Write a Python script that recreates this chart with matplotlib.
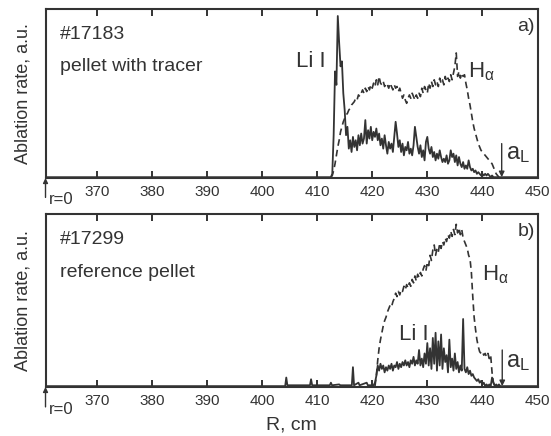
import numpy as np
import matplotlib
matplotlib.use("Agg")
import matplotlib.pyplot as plt

plt.rcParams["font.family"] = ["Liberation Sans", "DejaVu Sans"]
plt.rcParams["mathtext.fontset"] = "custom"
plt.rcParams["mathtext.rm"] = "Liberation Sans"
plt.rcParams["mathtext.it"] = "Liberation Sans"

INK = "#333333"

# ---- data (R in cm, ablation rate in a.u.) ----
R_MIN, R_MAX = 360.7, 450.0
STEP = 0.25

# a) #17183, pellet with tracer
top_start = 412.5
top_li = [
    0.00, 0.02, 0.25, 0.63, 0.55, 0.96, 0.80, 0.66, 0.69, 0.50,
    0.40, 0.25, 0.30, 0.17, 0.22, 0.15, 0.24, 0.18, 0.22, 0.16,
    0.25, 0.19, 0.26, 0.20, 0.23, 0.34, 0.20, 0.28, 0.23, 0.30,
    0.22, 0.27, 0.24, 0.29, 0.22, 0.26, 0.19, 0.23, 0.17, 0.25,
    0.19, 0.14, 0.21, 0.17, 0.20, 0.15, 0.24, 0.33, 0.26, 0.18,
    0.22, 0.15, 0.20, 0.13, 0.18, 0.16, 0.21, 0.14, 0.17, 0.13,
    0.19, 0.30, 0.24, 0.18, 0.14, 0.19, 0.12, 0.16, 0.10, 0.21,
    0.24, 0.17, 0.14, 0.18, 0.12, 0.15, 0.10, 0.14, 0.11, 0.16,
    0.12, 0.09, 0.11, 0.09, 0.13, 0.08, 0.10, 0.16, 0.12, 0.14,
    0.09, 0.13, 0.07, 0.12, 0.08, 0.06, 0.09, 0.05, 0.07, 0.05,
    0.10, 0.06, 0.04, 0.05, 0.03, 0.04, 0.02, 0.03, 0.02, 0.01,
    0.02, 0.01, 0.02, 0.01, 0.02, 0.01, 0.00, 0.01, 0.00, 0.00,
]
top_ha = [
    0.00, 0.01, 0.04, 0.08, 0.13, 0.18, 0.22, 0.27, 0.30, 0.33,
    0.35, 0.37, 0.38, 0.40, 0.41, 0.43, 0.44, 0.45, 0.47, 0.46,
    0.49, 0.48, 0.50, 0.52, 0.50, 0.53, 0.51, 0.54, 0.52, 0.55,
    0.53, 0.56, 0.54, 0.58, 0.55, 0.60, 0.56, 0.55, 0.57, 0.54,
    0.56, 0.55, 0.53, 0.56, 0.54, 0.52, 0.55, 0.53, 0.54, 0.51,
    0.53, 0.50, 0.47, 0.49, 0.46, 0.44, 0.47, 0.49, 0.47, 0.50,
    0.48, 0.46, 0.49, 0.47, 0.50, 0.48, 0.53, 0.50, 0.54, 0.52,
    0.50, 0.56, 0.53, 0.57, 0.54, 0.58, 0.55, 0.57, 0.54, 0.59,
    0.56, 0.58, 0.55, 0.60, 0.57, 0.59, 0.57, 0.61, 0.58, 0.62,
    0.66, 0.74, 0.60, 0.63, 0.59, 0.62, 0.60, 0.61, 0.56, 0.52,
    0.47, 0.43, 0.38, 0.33, 0.29, 0.26, 0.23, 0.20, 0.18, 0.16,
    0.15, 0.14, 0.13, 0.12, 0.11, 0.10, 0.09, 0.08, 0.06, 0.04,
    0.02, 0.01, 0.00,
]

# b) #17299, reference pellet
bot_pre_r = [R_MIN, 404.2, 404.4, 404.6, 408.7, 408.9, 409.1, 412.3, 412.5,
             412.7, 414.0, 414.2, 416.3, 416.5, 416.7, 417.5, 417.7, 419.0,
             419.2, 420.25]
bot_pre_li = [0.00, 0.00, 0.05, 0.005, 0.005, 0.04, 0.005, 0.005, 0.02,
              0.005, 0.01, 0.005, 0.005, 0.11, 0.005, 0.02, 0.005, 0.02,
              0.005, 0.005]
bot_start = 420.5
bot_li = [
    0.02, 0.06, 0.12, 0.09, 0.13, 0.10, 0.12, 0.08, 0.11, 0.09,
    0.12, 0.10, 0.13, 0.09, 0.12, 0.11, 0.14, 0.10, 0.13, 0.11,
    0.14, 0.12, 0.15, 0.12, 0.14, 0.11, 0.15, 0.13, 0.17, 0.12,
    0.15, 0.13, 0.21, 0.12, 0.16, 0.11, 0.19, 0.13, 0.25, 0.12,
    0.22, 0.10, 0.28, 0.13, 0.31, 0.09, 0.26, 0.12, 0.30, 0.10,
    0.22, 0.14, 0.18, 0.08, 0.27, 0.11, 0.16, 0.09, 0.19, 0.10,
    0.14, 0.08, 0.12, 0.09, 0.39, 0.10, 0.08, 0.11, 0.07, 0.09,
    0.06, 0.07, 0.05, 0.04, 0.03, 0.04, 0.02, 0.03, 0.01, 0.02,
    0.00, 0.01, 0.00, 0.01, 0.00, 0.05, 0.02, 0.00, 0.01, 0.00,
    0.01, 0.00, 0.00,
]
bot_ha = [
    0.00, 0.06, 0.15, 0.22, 0.27, 0.31, 0.35, 0.38, 0.40, 0.43,
    0.45, 0.47, 0.46, 0.49, 0.51, 0.54, 0.52, 0.55, 0.53, 0.56,
    0.55, 0.58, 0.56, 0.59, 0.57, 0.60, 0.58, 0.62, 0.60, 0.64,
    0.61, 0.65, 0.63, 0.66, 0.64, 0.68, 0.70, 0.67, 0.72, 0.70,
    0.76, 0.73, 0.79, 0.82, 0.76, 0.80, 0.78, 0.83, 0.80, 0.84,
    0.82, 0.86, 0.84, 0.88, 0.86, 0.90, 0.87, 0.91, 0.88, 0.94,
    0.89, 0.92, 0.88, 0.91, 0.86, 0.84, 0.82, 0.80, 0.76, 0.74,
    0.66, 0.52, 0.40, 0.33, 0.27, 0.23, 0.20, 0.19, 0.20, 0.18,
    0.19, 0.17, 0.19, 0.16, 0.18, 0.08, 0.02, 0.00,
]

panels = [
    dict(shot="#17183", desc="pellet with tracer", tag="a)",
         pre_r=[R_MIN, top_start], pre_li=[0.0, 0.0],
         start=top_start, li=top_li, ha=top_ha,
         li_lbl=(408.9, 0.69), ha_lbl=(437.4, 0.63), al=(443.5, 0.20)),
    dict(shot="#17299", desc="reference pellet", tag="b)",
         pre_r=bot_pre_r, pre_li=bot_pre_li,
         start=bot_start, li=bot_li, ha=bot_ha,
         li_lbl=(427.6, 0.30), ha_lbl=(439.9, 0.65), al=(443.6, 0.21)),
]

fig = plt.figure(figsize=(5.51, 4.36), dpi=100)
boxes = [[0.0826, 0.5917, 0.8929, 0.3870], [0.0826, 0.1124, 0.8929, 0.3968]]

for p, box in zip(panels, boxes):
    ax = fig.add_axes(box)
    r_li = p["start"] + STEP * np.arange(len(p["li"]))
    r_ha = p["start"] + STEP * np.arange(len(p["ha"]))
    li_r = np.concatenate([p["pre_r"], r_li, [R_MAX]])
    li_v = np.concatenate([p["pre_li"], p["li"], [0.0]])
    ax.plot(li_r, li_v, color=INK, lw=1.3)
    ax.plot(r_ha, p["ha"], color=INK, lw=1.2, dashes=(4, 2.5))

    ax.set_xlim(R_MIN, R_MAX)
    ax.set_ylim(-0.005, 1.0)
    ax.set_xticks(range(370, 451, 10))
    ax.set_yticks([])
    ax.tick_params(axis="x", direction="in", top=True, length=5, width=1.4,
                   color=INK, labelcolor=INK, labelsize=11, pad=5)
    for s in ax.spines.values():
        s.set_color(INK)
        s.set_linewidth(1.5)
    ax.set_ylabel("Ablation rate, a.u.", fontsize=13, color=INK, labelpad=10)

    ax.text(0.029, 0.85, p["shot"], transform=ax.transAxes, fontsize=14,
            color=INK, va="center")
    ax.text(0.029, 0.66, p["desc"], transform=ax.transAxes, fontsize=14,
            color=INK, va="center")
    ax.text(0.995, 0.90, p["tag"], transform=ax.transAxes, fontsize=14,
            color=INK, va="center", ha="right")
    ax.text(*p["li_lbl"], "Li I", fontsize=16, color=INK, ha="center",
            va="center")
    ax.text(*p["ha_lbl"], r"H$_\mathrm{\alpha}$", fontsize=16, color=INK,
            ha="left", va="center")

    # plasma edge marker a_L
    xa, ya = p["al"]
    ax.annotate("", xy=(xa, 0.0), xytext=(xa, ya),
                arrowprops=dict(arrowstyle="-|>", color=INK, lw=1.0,
                                mutation_scale=8, shrinkA=0, shrinkB=0))
    ax.text(xa + 0.7, 0.14, r"a$_\mathrm{L}$", fontsize=17, color=INK,
            ha="left", va="center")

    # r=0 marker below the left edge
    ax.annotate("", xy=(0.0, 0.0), xytext=(0.0, -0.115),
                xycoords="axes fraction", textcoords="axes fraction",
                annotation_clip=False,
                arrowprops=dict(arrowstyle="-|>", color=INK, lw=1.0,
                                mutation_scale=7, shrinkA=0, shrinkB=0))
    ax.text(0.006, -0.13, "r=0", transform=ax.transAxes, fontsize=12,
            color=INK, va="center", ha="left")

ax.set_xlabel("R, cm", fontsize=14, color=INK, labelpad=6)

fig.savefig("out.png", dpi=100)
